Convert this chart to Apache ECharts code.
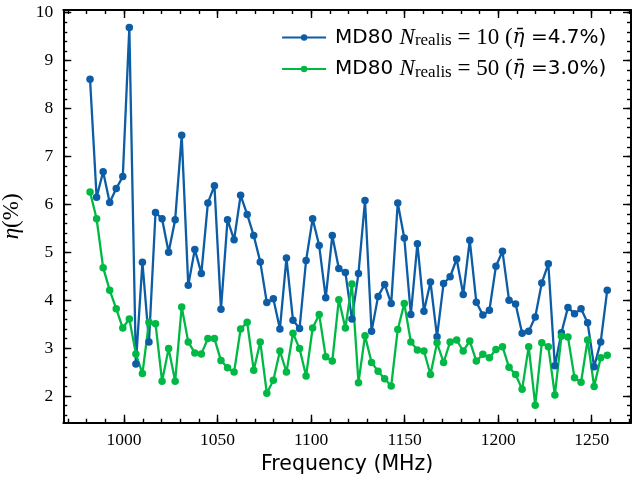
<!DOCTYPE html>
<html>
<head>
<meta charset="utf-8">
<script src="https://cdn.jsdelivr.net/npm/echarts@6/dist/echarts.min.js"></script>
<style>
html, body { margin: 0; padding: 0; background: #ffffff; }
#chart { width: 632px; height: 481px; }
</style>
</head>
<body>
<div id="chart"></div>
<script>
// ---- data ----
const freqMHz = [
  981.8, 985.3, 988.8, 992.3, 995.8, 999.3, 1002.8, 1006.3, 1009.8, 1013.3,
  1016.8, 1020.3, 1023.8, 1027.3, 1030.8, 1034.3, 1037.8, 1041.3, 1044.8, 1048.3,
  1051.8, 1055.3, 1058.8, 1062.3, 1065.8, 1069.3, 1072.8, 1076.3, 1079.8, 1083.3,
  1086.8, 1090.3, 1093.8, 1097.3, 1100.8, 1104.3, 1107.8, 1111.3, 1114.8, 1118.3,
  1121.8, 1125.3, 1128.8, 1132.3, 1135.8, 1139.3, 1142.8, 1146.3, 1149.8, 1153.3,
  1156.8, 1160.3, 1163.8, 1167.3, 1170.8, 1174.3, 1177.8, 1181.3, 1184.8, 1188.3,
  1191.8, 1195.3, 1198.8, 1202.3, 1205.8, 1209.3, 1212.8, 1216.3, 1219.8, 1223.3,
  1226.8, 1230.3, 1233.8, 1237.3, 1240.8, 1244.3, 1247.8, 1251.3, 1254.8, 1258.3
];
const etaN10 = [
  8.61, 6.15, 6.68, 6.04, 6.33, 6.58, 9.69, 2.67, 4.79, 3.13,
  5.83, 5.70, 5.00, 5.68, 7.44, 4.31, 5.06, 4.56, 6.03, 6.39,
  3.81, 5.68, 5.26, 6.19, 5.79, 5.35, 4.80, 3.95, 4.03, 3.40,
  4.88, 3.58, 3.41, 4.83, 5.70, 5.14, 4.05, 5.35, 4.66, 4.58,
  3.61, 4.56, 6.08, 3.35, 4.08, 4.33, 3.93, 6.03, 5.30, 3.70,
  5.18, 3.77, 4.38, 3.24, 4.35, 4.49, 4.86, 4.12, 5.25, 3.96,
  3.69, 3.79, 4.71, 5.02, 4.00, 3.92, 3.31, 3.35, 3.65, 4.36,
  4.76, 2.63, 3.32, 3.85, 3.72, 3.82, 3.53, 2.61, 3.13, 4.21
];
const etaN50 = [
  6.26, 5.70, 4.68, 4.21, 3.82, 3.42, 3.61, 2.88, 2.47, 3.54,
  3.51, 2.31, 2.99, 2.31, 3.86, 3.13, 2.90, 2.88, 3.20, 3.20,
  2.74, 2.59, 2.50, 3.40, 3.54, 2.54, 3.13, 2.06, 2.33, 2.94,
  2.50, 3.31, 2.99, 2.42, 3.42, 3.70, 2.82, 2.73, 4.01, 3.42,
  4.34, 2.28, 3.26, 2.70, 2.52, 2.36, 2.21, 3.39, 3.93, 3.13,
  2.96, 2.94, 2.45, 3.11, 2.70, 3.13, 3.17, 2.94, 3.15, 2.73,
  2.87, 2.80, 2.97, 3.03, 2.60, 2.45, 2.14, 3.03, 1.81, 3.11,
  3.03, 2.02, 3.25, 3.23, 2.38, 2.29, 3.17, 2.20, 2.80, 2.85
];
const nRealis = [10, 50];
const meanEta = ['4.7', '3.0'];
const seriesNames = ['MD80 N_realis = 10', 'MD80 N_realis = 50'];
const xTickLabels = [1000, 1050, 1100, 1150, 1200, 1250];
const yTickLabels = [2, 3, 4, 5, 6, 7, 8, 9, 10];

// ---- layout / styling ----
const X_MIN = 967.5, X_MAX = 1271;
const Y_MIN = 1.444, Y_MAX = 10.056;
const xMinor = [];
for (let v = 970; v <= 1270; v += 10) xMinor.push(v);
const yMinor = [];
for (let k = 8; k <= 50; k++) yMinor.push(Math.round(k * 0.2 * 10) / 10);

const SERIF = 'Liberation Serif';
const SANS = 'DejaVu Sans';
const BLUE = '#0C5DA5';
const GREEN = '#00B945';

function pairs(xs, ys) { return xs.map((x, i) => [x, ys[i]]); }
function plain(v) { return String(v); }

function mkX(pos, major, showLine, showLabel, extra) {
  return Object.assign({
    type: 'value', position: pos, min: X_MIN, max: X_MAX,
    splitLine: { show: false },
    axisLine: { show: showLine, onZero: false, lineStyle: { color: '#000', width: 2 } },
    axisTick: { show: true, inside: true, length: major ? 8 : 4,
      lineStyle: { color: '#000', width: 1.4 },
      customValues: major ? xTickLabels : xMinor },
    axisLabel: showLabel ? { show: true, customValues: xTickLabels, color: '#000',
      fontFamily: SERIF, fontSize: 17.5, margin: 9, formatter: plain } : { show: false }
  }, extra || {});
}
function mkY(pos, major, showLine, showLabel, extra) {
  return Object.assign({
    type: 'value', position: pos, min: Y_MIN, max: Y_MAX,
    splitLine: { show: false },
    axisLine: { show: showLine, onZero: false, lineStyle: { color: '#000', width: 2 } },
    axisTick: { show: true, inside: true, length: major ? 8 : 4,
      lineStyle: { color: '#000', width: 1.4 },
      customValues: major ? yTickLabels : yMinor },
    axisLabel: showLabel ? { show: true, customValues: yTickLabels, color: '#000',
      fontFamily: SERIF, fontSize: 17.5, margin: 10, formatter: plain } : { show: false }
  }, extra || {});
}

const legendRich = {
  sans: { fontFamily: SANS, fontSize: 20, color: '#000', lineHeight: 24, verticalAlign: 'middle' },
  it: { fontFamily: SERIF, fontStyle: 'italic', fontSize: 23, color: '#000', lineHeight: 24, verticalAlign: 'middle' },
  eta: { fontFamily: 'DejaVu Serif', fontStyle: 'italic', fontSize: 20, color: '#000', lineHeight: 24, verticalAlign: 'middle' },
  sub: { fontFamily: SERIF, fontSize: 17, color: '#000', lineHeight: 15, verticalAlign: 'bottom' },
  rm: { fontFamily: SERIF, fontSize: 23, color: '#000', lineHeight: 24, verticalAlign: 'middle' }
};

const chart = echarts.init(document.getElementById('chart'), null, { renderer: 'canvas' });
chart.setOption({
  animation: false,
  backgroundColor: '#ffffff',
  grid: { left: 63.3, right: 1, top: 10, bottom: 58.3, containLabel: false, outerBoundsMode: 'none' },
  legend: {
    show: true,
    left: 276, top: 21,
    orient: 'vertical',
    itemWidth: 44, itemHeight: 8, itemGap: 8,
    data: seriesNames,
    lineStyle: { width: 2.2 },
    textStyle: { padding: [0, 0, 0, 4], rich: legendRich },
    formatter: function (name) {
      const i = seriesNames.indexOf(name);
      return '{sans|MD80 }{it|N}{sub|realis}{rm| = ' + nRealis[i] + ' (}{eta|η\u0304}{sans| =' + meanEta[i] + '%)}';
    }
  },
  xAxis: [
    mkX('bottom', true, true, true, {
      name: 'Frequency (MHz)', nameLocation: 'middle', nameGap: 31,
      nameTextStyle: { fontFamily: SANS, fontSize: 20.5, color: '#000' }
    }),
    mkX('bottom', false, false, false),
    mkX('top', true, true, false),
    mkX('top', false, false, false)
  ],
  yAxis: [
    mkY('left', true, true, true, {
      name: '{it|η}{rm|(%)}', nameLocation: 'middle', nameGap: 40, nameRotate: 90,
      nameTextStyle: { rich: {
        it: { fontFamily: SERIF, fontStyle: 'italic', fontSize: 23, color: '#000' },
        rm: { fontFamily: SERIF, fontSize: 23, color: '#000' }
      } }
    }),
    mkY('left', false, false, false),
    mkY('right', true, true, false),
    mkY('right', false, false, false)
  ],
  series: [
    {
      name: seriesNames[0], type: 'line', xAxisIndex: 0, yAxisIndex: 0,
      data: pairs(freqMHz, etaN10),
      symbol: 'circle', symbolSize: 7.5,
      lineStyle: { color: BLUE, width: 2.3 },
      itemStyle: { color: BLUE, borderWidth: 0 },
      emphasis: { disabled: true }
    },
    {
      name: seriesNames[1], type: 'line', xAxisIndex: 0, yAxisIndex: 0,
      data: pairs(freqMHz, etaN50),
      symbol: 'circle', symbolSize: 7.5,
      lineStyle: { color: GREEN, width: 2.3 },
      itemStyle: { color: GREEN, borderWidth: 0 },
      emphasis: { disabled: true }
    }
  ]
});
</script>
</body>
</html>
